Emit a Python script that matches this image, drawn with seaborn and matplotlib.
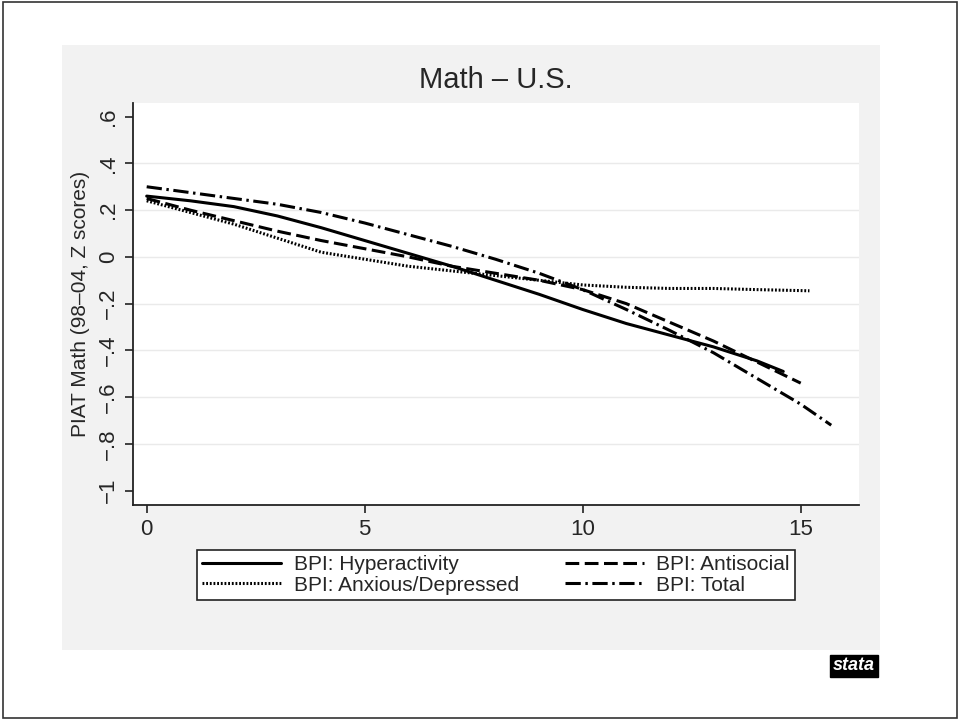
import matplotlib
matplotlib.use("Agg")
import matplotlib.pyplot as plt
import seaborn as sns
import pandas as pd
from matplotlib.patches import Rectangle
from matplotlib import font_manager

sns.set_theme(style="white")
names = {f.name for f in font_manager.fontManager.ttflist}
fam = "Liberation Sans Narrow" if "Liberation Sans Narrow" in names else "Liberation Sans"
plt.rcParams['font.family'] = [fam, 'DejaVu Sans']

# ---- data ----
hyper_x = [0, 1, 2, 3, 4, 5, 6, 7, 8, 9, 10, 11, 12, 13, 14, 14.6]
hyper_y = [0.26, 0.24, 0.215, 0.175, 0.125, 0.07, 0.015, -0.04, -0.10, -0.16, -0.225, -0.285, -0.335, -0.385, -0.445, -0.49]

anti_x = [0, 1, 2, 3, 4, 5, 6, 7, 8, 9, 10, 11, 12, 13, 14, 15]
anti_y = [0.25, 0.20, 0.155, 0.11, 0.07, 0.035, 0.0, -0.04, -0.07, -0.10, -0.14, -0.20, -0.28, -0.36, -0.45, -0.54]

anx_x = [0, 1, 2, 3, 4, 5, 6, 7, 8, 9, 10, 11, 12, 13, 14, 15.2]
anx_y = [0.24, 0.19, 0.14, 0.08, 0.02, -0.01, -0.04, -0.06, -0.08, -0.10, -0.12, -0.13, -0.135, -0.135, -0.14, -0.145]

tot_x = [0, 1, 2, 3, 4, 5, 6, 7, 8, 9, 10, 11, 12, 13, 14, 15, 15.7]
tot_y = [0.30, 0.275, 0.25, 0.225, 0.19, 0.145, 0.095, 0.045, -0.01, -0.07, -0.14, -0.225, -0.315, -0.41, -0.52, -0.63, -0.72]

labels = ["BPI: Hyperactivity", "BPI: Antisocial", "BPI: Anxious/Depressed", "BPI: Total"]
xticks = [0, 5, 10, 15]
yticks = [0.6, 0.4, 0.2, 0.0, -0.2, -0.4, -0.6, -0.8, -1.0]
ytick_labels = [".6", ".4", ".2", "0", "\u2212.2", "\u2212.4", "\u2212.6", "\u2212.8", "\u22121"]
grid_y = [0.4, 0.2, 0.0, -0.2, -0.4, -0.6, -0.8]

W, H = 960, 719
fig = plt.figure(figsize=(W / 100, H / 100), dpi=100)
fig.patch.set_facecolor("white")

# gray panel and outer frame
fig.patches.append(Rectangle((62 / W, 1 - 650 / H), (880 - 62) / W, (650 - 45) / H,
                             transform=fig.transFigure, facecolor="#f2f2f2", edgecolor="none", zorder=-5))
fig.patches.append(Rectangle((3 / W, 1 / H), (957 - 3) / W, (718 - 2) / H,
                             transform=fig.transFigure, facecolor="none", edgecolor="#333333", lw=1.2, zorder=-4))

ax = fig.add_axes([133 / W, 1 - 504.7 / H, (858.7 - 133) / W, (504.7 - 103.3) / H])
ax.set_zorder(2)
ax.set_facecolor("white")

for gy in grid_y:
    ax.axhline(gy, color="#eaeaea", lw=1.0, zorder=0)

series = [
    (hyper_x, hyper_y, labels[0], "-"),
    (anti_x, anti_y, labels[1], (0, (4.5, 1.8))),
    (anx_x, anx_y, labels[2], (0, (0.6, 0.6))),
    (tot_x, tot_y, labels[3], (0, (5, 1.5, 0.8, 1.5))),
]
handles = {}
for xs, ys, lab, ls in series:
    df = pd.DataFrame({"x": xs, "y": ys})
    sns.lineplot(data=df, x="x", y="y", ax=ax, color="black", lw=2.2, linestyle=ls,
                 sort=False, label=lab, legend=False)
    handles[lab] = ax.lines[-1]

ax.set_xlim(-0.314, 16.33)
ax.set_ylim(-1.06, 0.657)
ax.set_xticks(xticks)
ax.set_xticklabels([str(t) for t in xticks], fontsize=16)
ax.set_yticks(yticks)
ax.set_yticklabels(ytick_labels, fontsize=16, rotation=90, va="center")
ax.tick_params(axis="both", direction="out", length=6, width=1.2, color="#222222",
               left=True, bottom=True, pad=4)
for s in ["top", "right"]:
    ax.spines[s].set_visible(False)
for s in ["left", "bottom"]:
    ax.spines[s].set_color("#222222")
    ax.spines[s].set_linewidth(1.3)
ax.set_xlabel("")
ax.set_ylabel("PIAT Math (98\u201304, Z scores)", fontsize=15, labelpad=6)
ax.set_title("Math \u2013 U.S.", fontsize=21, pad=11)

order = [labels[0], labels[2], labels[1], labels[3]]
leg = fig.legend([handles[l] for l in order], order, ncol=2,
                 loc="center", bbox_to_anchor=((197 + 795) / 2 / W, 1 - 575 / H),
                 fontsize=15, frameon=True, fancybox=False, edgecolor="#222222",
                 facecolor="white", framealpha=1.0,
                 handlelength=3.8, columnspacing=2.2, handletextpad=0.6,
                 borderpad=0.25, labelspacing=0.05)
leg.get_frame().set_linewidth(1.2)
leg.set_zorder(3)

fig.text(854 / W, 1 - 666 / H, "stata", ha="center", va="center", color="white",
         fontsize=13, fontweight="bold", fontstyle="italic",
         bbox=dict(boxstyle="square,pad=0.15", facecolor="black", edgecolor="black"))

fig.savefig("out.png", dpi=100)
